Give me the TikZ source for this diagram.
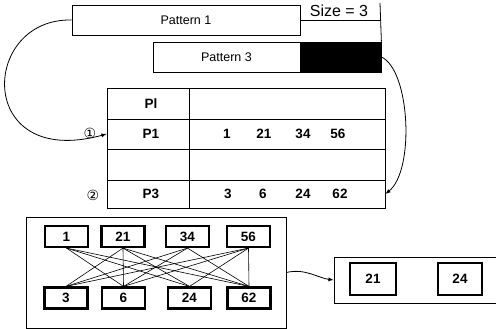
\documentclass[tikz,border=0pt]{standalone}
\usepackage{fontspec}
\setmainfont{Liberation Sans}
\newfontfamily\circfont{DejaVu Sans}
\begin{document}
\begin{tikzpicture}[x=1pt,y=-1pt,line width=0.8pt,
    patbox/.style={draw,inner sep=0pt,font=\fontsize{12.5}{13}\selectfont},
    rowbox/.style={draw,minimum width=278pt,inner sep=0pt},
    cell/.style={font=\fontsize{13.5}{14}\selectfont\bfseries},
    numbox/.style={draw,line width=2.2pt,minimum width=43pt,minimum height=21pt,inner sep=0pt,font=\fontsize{13.5}{14}\selectfont\bfseries},
    frame/.style={draw,inner sep=0pt}]
    \useasboundingbox (0,0) rectangle (496,329);
    % patterns
    \node[patbox,minimum width=228pt,minimum height=30pt] (pat1) at (186,20) {Pattern 1};
    \node[patbox,minimum width=147pt,minimum height=30pt] (pat3) at (226.5,57) {Pattern 3};
    \node[draw,fill=black,minimum width=81pt,minimum height=30pt,inner sep=0pt] (blk) at (340.5,57) {};
    \draw (pat1.east) -- (380,20);
    \draw (380,3) -- (blk.north east);
    \node[font=\fontsize{16}{17}\selectfont] (size) at (339,11) {Size = 3};
    % table
    \node[rowbox,minimum height=31pt] (hdr) at (246,103.5) {};
    \node[rowbox,minimum height=30pt] (row1) at (246,134) {};
    \node[rowbox,minimum height=31pt] (row2) at (246,164.5) {};
    \node[rowbox,minimum height=28pt] (row3) at (246,194) {};
    \draw (189,88) -- (189,208);
    \node[cell] (pl) at (151,104) {Pl};
    \node[cell] (p1) at (151,134) {P1};
    \node[cell] (p3) at (151,194) {P3};
    \foreach \v/\x in {1/227,21/264,34/303,56/338}
        \node[cell] (a\v) at (\x,134) {\v};
    \foreach \v/\x in {3/228,6/263,24/303,62/340}
        \node[cell] (b\v) at (\x,194) {\v};
    \node[font=\circfont\fontsize{14}{15}\selectfont] (c1) at (90,133) {①};
    \node[font=\circfont\fontsize{14}{15}\selectfont] (c2) at (93,195) {②};
    % arrows into the table
    \draw[-latex] (pat1.west) .. controls (-20,18) and (-25,170) .. (row1.west);
    \draw[-latex] (blk.east) .. controls (410,70) and (415,170) .. (row3.east);
    % candidate pairs
    \node[frame,minimum width=260pt,minimum height=111pt] (pairs) at (156,272.5) {};
    \foreach \n/\v/\x in {1/1/66.5,2/21/123,3/34/187.5,4/56/248.5}
        \node[numbox] (t\n) at (\x,236.5) {\v};
    \foreach \n/\v/\x in {1/3/66,2/6/123.5,3/24/189.5,4/62/249}
        \node[numbox] (u\n) at (\x,298) {\v};
    \foreach \i in {1,...,4}
        \foreach \j in {1,...,4} {
            \ifnum\i=\j
                \ifodd\i\else\draw[line width=0.6pt] (t\i.south) -- (u\j.north);\fi
            \else
                \draw[line width=0.6pt] (t\i.south) -- (u\j.north);
            \fi
        }
    % result
    \node[frame,minimum width=170pt,minimum height=46pt] (res) at (419,280) {};
    \node[numbox,minimum width=46pt,minimum height=32pt] (r21) at (373,279) {21};
    \node[numbox,minimum width=44pt,minimum height=32pt] (r24) at (460,279) {24};
    \draw[-latex] (pairs.east) .. controls (305,268) and (318,278) .. (res.west);
\end{tikzpicture}
\end{document}
